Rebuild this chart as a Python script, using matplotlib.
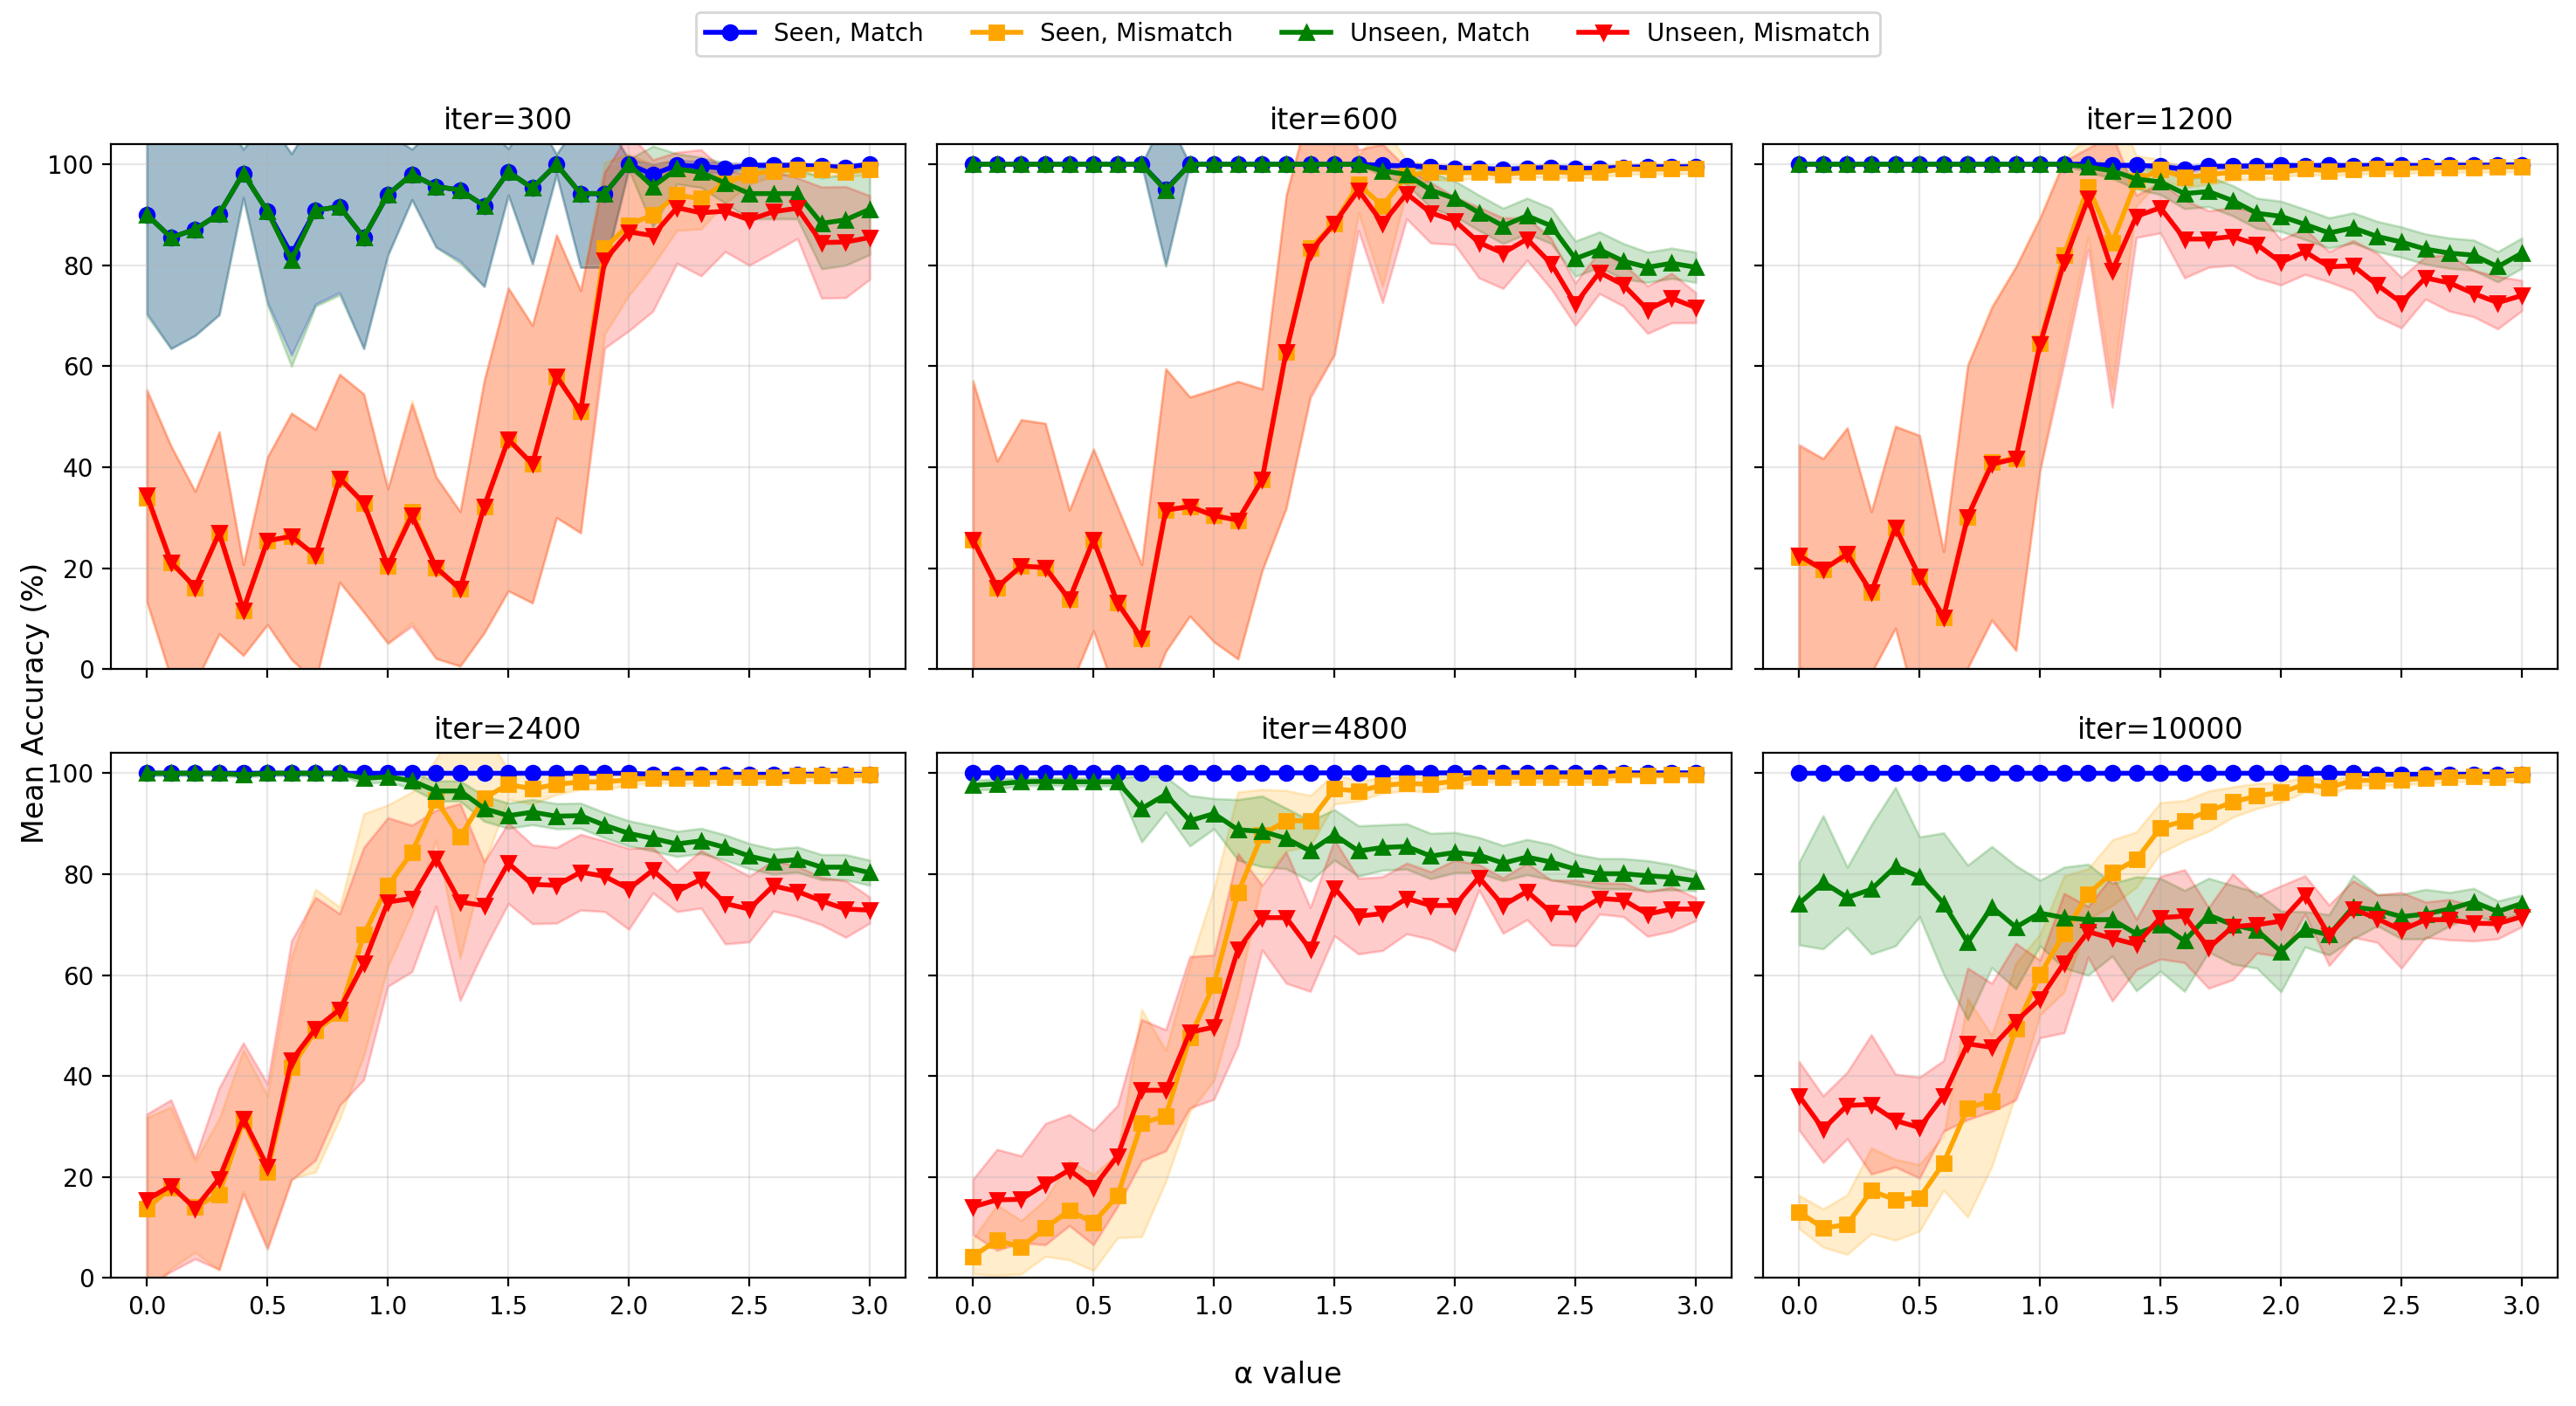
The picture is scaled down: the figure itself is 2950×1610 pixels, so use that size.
import matplotlib
matplotlib.use('Agg')
import matplotlib.pyplot as plt
import numpy as np

# alpha sweep (x axis)
alphas = [0.0, 0.1, 0.2, 0.3, 0.4, 0.5, 0.6, 0.7, 0.8, 0.9, 1.0,
          1.1, 1.2, 1.3, 1.4, 1.5, 1.6, 1.7, 1.8, 1.9, 2.0,
          2.1, 2.2, 2.3, 2.4, 2.5, 2.6, 2.7, 2.8, 2.9, 3.0]

iters = [300, 600, 1200, 2400, 4800, 10000]
series_labels = ["Seen, Match", "Seen, Mismatch", "Unseen, Match", "Unseen, Mismatch"]

# ---- iter=300 ----
sm_300 = [90.0, 85.5, 87.1, 90.2, 98.2, 90.7, 82.2, 90.9, 91.6, 85.5, 94.0, 98.0, 95.6, 94.9, 91.8, 98.5,
          95.3, 100.0, 94.2, 94.2, 100.0, 98.0, 99.8, 99.6, 99.2, 99.8, 99.8, 99.8, 99.6, 99.4, 100.0]
sm_300_sd = [19.5, 22, 21, 20, 4.7, 18, 20, 18.6, 17, 22, 12, 5, 12, 14, 16, 4.6,
             15, 2, 14.6, 14.6, 1, 2, 1, 1, 1, 0.5, 0.5, 0.5, 0.5, 0.5, 0.5]
smm_300 = [34.0, 21.2, 16.2, 27.0, 11.7, 25.4, 26.3, 22.5, 37.8, 32.9, 20.4, 31.2, 20.1, 15.9, 32.2, 45.5,
           40.6, 58.0, 51.0, 83.4, 88.0, 90.0, 93.9, 93.2, 96.3, 98.0, 98.7, 99.0, 99.0, 98.5, 99.0]
smm_300_sd = [21, 23, 19, 20, 9, 16.6, 24.4, 25, 20.6, 21.6, 15.3, 22, 18, 15.3, 25, 30,
              27.5, 28, 24, 17, 14, 10, 7, 6, 4, 2, 1, 1, 1, 1, 1]
um_300 = [90.0, 85.5, 87.1, 90.2, 98.2, 90.7, 81.0, 90.9, 91.6, 85.5, 94.0, 98.0, 95.6, 94.9, 91.8, 98.5,
          95.3, 100.0, 94.2, 94.2, 100.0, 95.6, 99.1, 98.4, 96.3, 94.2, 94.2, 94.2, 88.3, 89.0, 91.1]
um_300_sd = [20, 22, 21, 20, 5, 18.5, 21, 19, 17.5, 22, 12, 5, 12, 14.5, 16, 4.6,
             15, 2, 14.6, 14.6, 1, 8, 3, 3, 4, 5, 5, 5, 9, 9, 9]
umm_300 = [34.4, 21.2, 16.2, 27.0, 11.7, 25.4, 26.3, 22.5, 37.8, 32.9, 20.4, 30.5, 20.1, 15.9, 32.2, 45.5,
           40.6, 58.0, 51.0, 81.0, 86.6, 85.9, 91.4, 90.4, 90.7, 89.0, 90.6, 91.3, 84.5, 84.6, 85.5]
umm_300_sd = [21, 23, 19, 20, 9, 16.6, 24.4, 25, 20.6, 21.6, 15.3, 22, 18, 15.3, 25, 30,
              27.5, 28, 24, 17.4, 19.6, 15, 11, 12.5, 8, 9, 8, 6, 11, 11, 8.3]

# ---- iter=600 ----
sm_600 = [100, 100, 100, 100, 100, 100, 100, 100, 95.0, 100, 100, 100, 100, 100, 100, 100,
          100, 99.8, 99.7, 99.5, 99.2, 99.2, 99.0, 99.2, 99.4, 99.2, 99.2, 99.4, 99.5, 99.5, 99.5]
sm_600_sd = [0, 0, 0, 0, 0, 0, 0, 0, 15, 0, 0, 0, 0, 0, 0, 0,
             0, 0.3, 0.3, 0.5, 0.5, 0.5, 0.5, 0.5, 0.5, 0.5, 0.5, 0.5, 0.5, 0.5, 0.5]
smm_600 = [25.6, 16.2, 20.4, 20.1, 13.8, 25.6, 13.1, 6.1, 31.5, 32.2, 30.4, 29.5, 37.5, 62.9, 83.4, 88.3,
           96.0, 91.8, 97.7, 98.5, 98.3, 98.4, 98.0, 98.4, 98.5, 98.3, 98.4, 99.1, 99.0, 99.1, 99.2]
smm_600_sd = [31.5, 25, 29, 28.6, 17.7, 18, 19, 14.6, 28, 21.7, 25, 27.5, 18, 31, 29, 26,
              5.6, 16, 3, 1.5, 1.5, 1, 1, 1, 1, 1, 1, 1, 1, 1, 1]
um_600 = [100, 100, 100, 100, 100, 100, 100, 100, 94.8, 100, 100, 100, 100, 100, 100, 100,
          100, 98.7, 98.0, 94.9, 93.2, 90.4, 87.8, 89.8, 87.8, 81.3, 83.1, 80.8, 79.6, 80.4, 79.6]
um_600_sd = [0, 0, 0, 0, 0, 0, 0, 0, 15, 0, 0, 0, 0, 0, 0, 0,
             0, 1, 2, 3.5, 3.5, 3.5, 3.5, 3.5, 3.5, 3.5, 3.5, 3.5, 3, 3, 3]
umm_600 = [25.6, 16.2, 20.4, 20.1, 13.8, 25.6, 13.1, 6.1, 31.5, 32.2, 30.4, 29.5, 37.5, 62.9, 82.7, 88.3,
           94.9, 88.3, 94.2, 90.4, 88.8, 84.5, 82.4, 85.2, 80.3, 72.3, 78.6, 76.1, 71.2, 73.5, 71.6]
umm_600_sd = [31.5, 25, 29, 28.6, 17.7, 18, 19, 14.6, 28, 21.7, 25, 27.5, 18, 31, 29, 26,
              8, 15.7, 5, 6, 4.7, 7, 7, 4.2, 5, 4.2, 4.2, 4.2, 4.7, 4.9, 3]

# ---- iter=1200 ----
sm_1200 = [100, 100, 100, 100, 100, 100, 100, 100, 100, 100, 100, 100, 100, 99.8, 99.8, 99.6,
           99.0, 99.6, 99.6, 99.7, 99.8, 99.7, 99.8, 99.7, 99.8, 99.8, 99.7, 99.8, 99.8, 99.8, 99.9]
sm_1200_sd = [0, 0, 0, 0, 0, 0, 0, 0, 0, 0, 0, 0, 0, 0.3, 0.3, 0.5,
              0.8, 0.5, 0.5, 0.5, 0.5, 0.5, 0.5, 0.5, 0.5, 0.5, 0.5, 0.5, 0.5, 0.5, 0.3]
smm_1200 = [22.1, 19.7, 22.8, 15.2, 28.1, 18.3, 10.3, 30.2, 41.0, 41.7, 64.6, 82.0, 95.6, 84.5, 96.7, 99.0,
            97.4, 98.0, 98.4, 98.5, 98.4, 99.1, 98.7, 99.0, 99.2, 99.2, 99.3, 99.4, 99.4, 99.5, 99.5]
smm_1200_sd = [22, 22, 25, 16, 20, 28, 13, 30, 31, 38, 25, 19, 10, 29, 5, 2,
               2, 2, 1.5, 1.5, 1, 1, 1, 1, 1, 1, 1, 1, 1, 1, 1]
um_1200 = [100, 100, 100, 100, 100, 100, 100, 100, 100, 100, 100, 100, 99.5, 98.7, 97.1, 96.5,
           94.2, 94.6, 92.8, 90.3, 89.7, 88.1, 86.4, 87.4, 85.7, 84.6, 83.2, 82.4, 82.0, 79.7, 82.4]
um_1200_sd = [0, 0, 0, 0, 0, 0, 0, 0, 0, 0, 0, 0.3, 1, 1.5, 2, 2.5,
              3, 3, 3, 3, 3, 3, 3, 3, 3, 3, 3, 3, 3, 3, 3]
umm_1200 = [22.5, 19.7, 22.8, 15.2, 28.1, 18.3, 10.3, 30.2, 40.6, 41.7, 64.3, 80.6, 93.2, 78.9, 89.7, 91.4,
            85.2, 85.2, 85.7, 84.1, 80.6, 82.7, 79.7, 79.9, 76.1, 72.6, 77.5, 76.5, 74.4, 72.6, 74.0]
umm_1200_sd = [22, 22, 25, 16, 20, 28, 13, 30, 31, 38, 25, 20, 10, 27, 4.2, 5,
               7.7, 5.6, 5.7, 6.6, 4.5, 4.5, 3, 5, 6.3, 5, 4.2, 5.6, 4.6, 5.2, 3]

# ---- iter=2400 ----
sm_2400 = [100, 100, 100, 100, 100, 100, 100, 100, 100, 100, 100, 100, 100, 100, 100, 100,
           100, 100, 100, 100, 100, 99.8, 99.8, 99.8, 99.8, 99.8, 99.8, 99.8, 99.8, 99.8, 99.8]
sm_2400_sd = [0, 0, 0, 0, 0, 0, 0, 0, 0, 0, 0, 0, 0, 0, 0, 0,
              0, 0, 0, 0, 0, 0.3, 0.3, 0.3, 0.3, 0.3, 0.3, 0.3, 0.3, 0.3, 0.3]
smm_2400 = [13.8, 17.9, 14.1, 16.6, 31.2, 21.1, 41.7, 49.0, 52.5, 68.0, 77.7, 84.3, 94.8, 87.4, 95.1, 97.8,
            96.9, 97.8, 98.3, 98.3, 98.7, 99.1, 99.0, 99.1, 99.2, 99.2, 99.2, 99.5, 99.5, 99.5, 99.7]
smm_2400_sd = [18, 16, 9, 15, 14, 15, 22, 28, 21, 24, 16, 12, 8, 24, 13, 3,
               3, 2, 1.5, 1.5, 1, 1, 1, 1, 1, 1, 1, 1, 1, 1, 1]
um_2400 = [100, 100, 100, 100, 99.7, 100, 100, 100, 100, 99.0, 99.3, 98.5, 96.5, 96.5, 93.0, 91.6,
           92.3, 91.5, 91.6, 89.7, 88.1, 87.1, 86.0, 86.6, 85.3, 83.6, 82.5, 82.9, 81.4, 81.4, 80.3]
um_2400_sd = [0.5, 0.5, 0.5, 0.5, 0.5, 0.5, 0.5, 0.5, 0.5, 1, 1, 1.5, 2, 2, 2.5, 2.5,
              2.5, 2.5, 2.5, 2.5, 2.5, 2.5, 2.5, 2.5, 2.5, 2.5, 2.5, 2.5, 2.5, 2.5, 2.5]
umm_2400 = [15.5, 18.3, 13.8, 19.7, 31.6, 22.1, 43.1, 49.4, 53.2, 62.3, 74.5, 75.2, 83.2, 74.5, 73.8, 82.2,
            78.0, 77.8, 80.4, 79.6, 77.1, 80.8, 76.6, 79.0, 74.2, 73.1, 77.7, 76.6, 74.7, 73.1, 72.9]
umm_2400_sd = [17, 17, 10, 18, 15, 16.4, 23.7, 26, 19, 23, 16.7, 14.5, 9.5, 19.5, 8.7, 8,
               7.8, 7.5, 7.5, 7, 8, 4.5, 4, 5.7, 8, 6.5, 5, 5, 4.7, 5.6, 2.6]

# ---- iter=4800 ----
sm_4800 = [100, 100, 100, 100, 100, 100, 100, 100, 100, 100, 100, 100, 100, 100, 100, 100,
           100, 100, 100, 100, 100, 100, 100, 100, 100, 100, 100, 100, 100, 100, 100]
sm_4800_sd = [0, 0, 0, 0, 0, 0, 0, 0, 0, 0, 0, 0, 0, 0, 0, 0,
              0, 0, 0, 0, 0, 0, 0, 0, 0, 0, 0, 0, 0, 0, 0]
smm_4800 = [4.3, 7.5, 6.1, 9.9, 13.4, 11.0, 16.3, 30.7, 32.1, 47.6, 58.1, 76.3, 87.8, 90.6, 90.6, 96.9,
            96.5, 97.6, 98.0, 97.8, 98.5, 99.3, 99.2, 99.2, 99.3, 99.3, 99.2, 99.7, 99.6, 99.7, 99.7]
smm_4800_sd = [3.5, 7, 5.3, 5.6, 9.8, 9.5, 8.3, 22.5, 13, 14.6, 19, 20, 9, 6, 5, 3,
               2, 1.5, 1.5, 1.5, 1, 1, 1, 1, 1, 1, 1, 0.5, 0.5, 0.5, 0.5]
um_4800 = [97.6, 97.9, 98.3, 98.4, 98.3, 98.3, 98.3, 93.0, 95.8, 90.6, 92.0, 88.8, 88.5, 87.1, 84.6, 87.8,
           84.6, 85.3, 85.5, 83.6, 84.3, 83.8, 82.2, 83.4, 82.4, 81.0, 80.1, 80.1, 79.7, 79.4, 78.7]
um_4800_sd = [1, 1, 0.8, 0.8, 0.8, 0.8, 0.8, 6.6, 3.5, 5, 3, 6, 7, 6, 6, 5,
              5, 4.5, 4.5, 4.5, 4, 3.5, 3.5, 3.5, 3.5, 3, 3, 3, 3, 2.5, 2]
umm_4800 = [14.1, 15.5, 15.6, 18.6, 21.4, 17.9, 24.2, 37.2, 37.2, 48.7, 49.7, 65.1, 71.4, 71.4, 65.1, 77.3,
            71.7, 72.2, 75.2, 73.8, 73.8, 79.4, 73.8, 76.6, 72.4, 72.3, 75.2, 74.9, 72.1, 73.1, 73.1]
umm_4800_sd = [5.5, 10, 8.6, 12, 11, 11.3, 10, 14, 12, 15, 14.3, 19, 6.4, 13, 8.3, 9.5,
               7.5, 7.3, 7, 6.7, 9, 2.5, 5.5, 5.6, 6.4, 6.5, 3.1, 3.3, 4.4, 4.4, 2.3]

# ---- iter=10000 ----
sm_10000 = [100, 100, 100, 100, 100, 100, 100, 100, 100, 100, 100, 100, 100, 100, 100, 100,
            100, 100, 100, 100, 100, 100, 100, 100, 99.8, 99.8, 99.8, 99.8, 99.8, 99.8, 99.8]
sm_10000_sd = [0, 0, 0, 0, 0, 0, 0, 0, 0, 0, 0, 0, 0, 0, 0, 0,
               0, 0, 0, 0, 0, 0, 0, 0, 0.3, 0.3, 0.3, 0.3, 0.3, 0.3, 0.3]
smm_10000 = [13.1, 9.9, 10.6, 17.3, 15.5, 15.9, 22.8, 33.7, 35.1, 49.4, 60.1, 68.2, 76.1, 80.3, 82.9, 89.2,
             90.6, 92.5, 94.3, 95.5, 96.2, 97.8, 97.2, 98.6, 98.6, 98.7, 99.0, 99.3, 99.4, 99.3, 99.7]
smm_10000_sd = [3.3, 3.8, 5.9, 8.5, 8, 6.6, 5.4, 21.6, 13, 13, 8, 11.5, 5, 6.5, 5.5, 5,
                4, 4, 3, 2.5, 2, 1.5, 1.5, 1, 1, 1, 1, 1, 1, 1, 1]
um_10000 = [74.2, 78.4, 75.4, 77.0, 81.5, 79.5, 74.2, 66.5, 73.5, 69.5, 72.3, 71.4, 71.0, 71.0, 68.2, 70.0,
            66.8, 71.9, 70.0, 68.9, 64.7, 69.1, 68.0, 73.5, 72.9, 71.6, 72.1, 73.1, 74.5, 72.6, 74.2]
um_10000_sd = [8.2, 13.2, 6, 12.8, 15.7, 7.9, 14, 15.3, 12, 12.2, 6.5, 10, 11, 7.2, 11.3, 9.2,
               10, 7.3, 7.8, 7.5, 8, 3.5, 4, 6.3, 3.1, 4.4, 4.9, 3.3, 2.7, 2.1, 1.7]
umm_10000 = [36.1, 29.5, 34.2, 34.4, 31.2, 29.8, 36.1, 46.4, 45.7, 50.8, 55.3, 62.4, 68.6, 67.3, 66.1, 71.4,
             71.7, 65.4, 69.6, 70.0, 70.7, 75.9, 67.9, 73.1, 71.2, 68.9, 71.0, 71.0, 70.3, 70.2, 71.6]
umm_10000_sd = [6.8, 6.6, 6.6, 13.8, 9.2, 10, 7, 15, 12.7, 15.5, 7.7, 13.8, 5, 12.4, 5, 8.2,
                9.2, 8, 10.5, 5.6, 7, 3.8, 6, 5.6, 4.7, 7.5, 3.5, 4, 3.5, 3, 2]

panels = [
    [(sm_300, sm_300_sd), (smm_300, smm_300_sd), (um_300, um_300_sd), (umm_300, umm_300_sd)],
    [(sm_600, sm_600_sd), (smm_600, smm_600_sd), (um_600, um_600_sd), (umm_600, umm_600_sd)],
    [(sm_1200, sm_1200_sd), (smm_1200, smm_1200_sd), (um_1200, um_1200_sd), (umm_1200, umm_1200_sd)],
    [(sm_2400, sm_2400_sd), (smm_2400, smm_2400_sd), (um_2400, um_2400_sd), (umm_2400, umm_2400_sd)],
    [(sm_4800, sm_4800_sd), (smm_4800, smm_4800_sd), (um_4800, um_4800_sd), (umm_4800, umm_4800_sd)],
    [(sm_10000, sm_10000_sd), (smm_10000, smm_10000_sd), (um_10000, um_10000_sd), (umm_10000, umm_10000_sd)],
]

colors = ["blue", "orange", "green", "red"]
markers = ["o", "s", "^", "v"]

fig, axes = plt.subplots(2, 3, figsize=(14.75, 8.05), dpi=200, sharex=True, sharey=True)
x = np.array(alphas)

for ax, it, series in zip(axes.flat, iters, panels):
    for (mean, sd), c, m, lab in zip(series, colors, markers, series_labels):
        mean = np.array(mean, dtype=float)
        sd = np.array(sd, dtype=float)
        ax.plot(x, mean, color=c, marker=m, linewidth=2, markersize=6, label=lab)
        ax.fill_between(x, mean - sd, mean + sd, color=c, alpha=0.2)
    ax.set_title(f"iter={it}", fontsize=12)
    ax.grid(True, alpha=0.3)
    ax.set_ylim(0, 104)
    ax.tick_params(labelsize=10)

handles, labels = axes[0, 0].get_legend_handles_labels()
fig.legend(handles, labels, loc="upper center", ncol=4, fontsize=10,
           bbox_to_anchor=(0.5, 1.0))
fig.supxlabel("\u03b1 value", fontsize=12, y=0.012)
fig.supylabel("Mean Accuracy (%)", fontsize=12, x=0.008)

plt.subplots_adjust(left=0.043, right=0.993, top=0.8975, bottom=0.091, wspace=0.039, hspace=0.16)
plt.savefig("out.png", dpi=200, facecolor="white")
plt.close()
